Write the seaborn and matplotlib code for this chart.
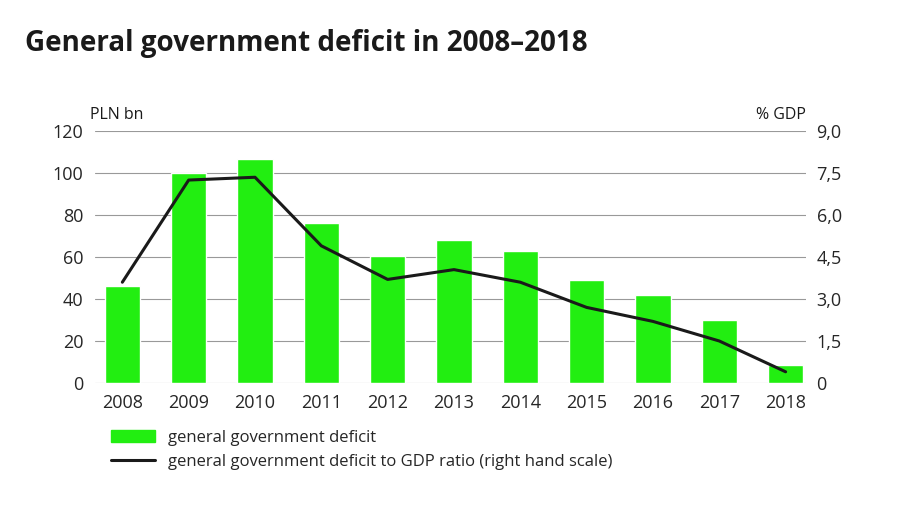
"""
General government deficit chart.
"""

import matplotlib.pyplot as plt
import matplotlib.ticker as mticker
import pandas as pd
import seaborn as sns
from matplotlib.lines import Line2D
from matplotlib.patches import Patch

sns.set_theme(style="white")
plt.rcParams["font.family"] = ["Open Sans", "DejaVu Sans"]

years = ["2008", "2009", "2010", "2011", "2012", "2013",
         "2014", "2015", "2016", "2017", "2018"]
deficit_bn = [46, 100, 106.5, 76, 60.5, 68, 63, 49, 42, 30, 8.5]
deficit_gdp = [3.6, 7.25, 7.35, 4.9, 3.7, 4.05, 3.6, 2.7, 2.2, 1.5, 0.4]

df = pd.DataFrame({"year": years, "bn": deficit_bn, "gdp": deficit_gdp})

green = "#22ee11"

fig = plt.figure(figsize=(9, 5.12), dpi=100)
ax = fig.add_axes([0.105, 0.252, 0.79, 0.492])

sns.barplot(data=df, x="year", y="bn", color=green, width=0.53,
            saturation=1, ax=ax)
ax.set_ylim(0, 120)
ax.set_yticks(range(0, 121, 20))
ax.yaxis.grid(True, color="#999999", linewidth=0.8)
ax.set_axisbelow(True)
ax.set_xlabel("")
ax.set_ylabel("")
for s in ax.spines.values():
    s.set_visible(False)
ax.tick_params(axis="both", labelsize=13, length=0, pad=8)

ax2 = ax.twinx()
sns.lineplot(x=range(len(years)), y=deficit_gdp, color="#1a1a1a",
             linewidth=2.2, ax=ax2)
ax2.set_ylim(0, 9)
ax2.set_yticks([0, 1.5, 3, 4.5, 6, 7.5, 9])
ax2.yaxis.set_major_formatter(mticker.FuncFormatter(
    lambda v, _: "0" if v == 0 else f"{v:.1f}".replace(".", ",")))
for s in ax2.spines.values():
    s.set_visible(False)
ax2.tick_params(axis="y", labelsize=13, length=0, pad=8)
ax.set_xlim(-0.42, 10.3)

fig.text(0.028, 0.9, "General government deficit in 2008\u20132018",
         fontsize=20, fontweight="bold", color="#1a1a1a")
fig.text(0.10, 0.768, "PLN bn", fontsize=11.5, color="#1a1a1a")
fig.text(0.895, 0.768, "% GDP", fontsize=11.5, color="#1a1a1a", ha="right")

handles = [
    Patch(color=green, label="general government deficit"),
    Line2D([0], [0], color="#1a1a1a", linewidth=2.2,
           label="general government deficit to GDP ratio (right hand scale)"),
]
fig.legend(handles=handles, loc="upper left", bbox_to_anchor=(0.107, 0.19),
           frameon=False, fontsize=12, handlelength=2.6, labelspacing=0.5)

fig.savefig("out.png", dpi=100)
plt.close(fig)
